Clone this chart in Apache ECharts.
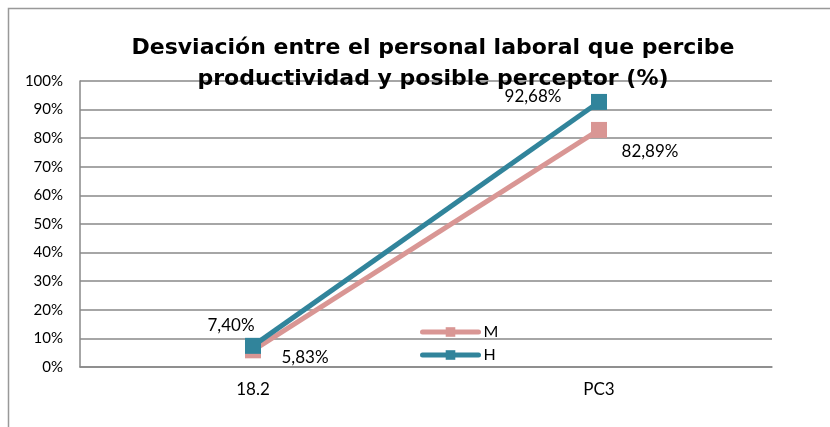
<!DOCTYPE html>
<html>
<head>
<meta charset="utf-8">
<script src="https://cdn.jsdelivr.net/npm/echarts@6/dist/echarts.min.js"></script>
<style>
  html, body { margin: 0; padding: 0; background: #fff; }
  #chart { width: 830px; height: 427px; }
</style>
</head>
<body>
<div id="chart"></div>
<script>
// Categories and series values (percent)
const categories = ['18.2', 'PC3'];
const valuesM = [5.83, 82.89];
const valuesH = [7.40, 92.68];
const yTicks = [0, 10, 20, 30, 40, 50, 60, 70, 80, 90, 100];

const FONT = 'Lato, "Open Sans", sans-serif';
const TITLE_FONT = '"DejaVu Sans", Lato, sans-serif';
const colorM = '#D99694';
const colorH = '#31849B';

function pct(v) {
  return v.toFixed(2).replace('.', ',') + '%';
}

// Label offsets relative to each marker, per series
const offsetsM = [[52, 7], [51, 22]];
const offsetsH = [[-22, -20], [-66, -5]];

function buildData(values, offsets) {
  return values.map((v, i) => ({
    value: v,
    label: {
      show: true,
      position: 'inside',
      offset: offsets[i],
      formatter: pct(v),
      color: '#000',
      fontFamily: FONT,
      fontSize: 17
    }
  }));
}

const chart = echarts.init(document.getElementById('chart'), null, { renderer: 'canvas' });

chart.setOption({
  animation: false,
  backgroundColor: '#fff',
  title: {
    text: 'Desviación entre el personal laboral que percibe\nproductividad y posible perceptor (%)',
    left: 428,
    textAlign: 'center',
    top: 28,
    textStyle: {
      fontFamily: TITLE_FONT,
      fontWeight: 'bold',
      fontSize: 22,
      lineHeight: 31,
      color: '#000'
    }
  },
  grid: { left: 80, right: 58, top: 81, bottom: 60 },
  legend: {
    orient: 'vertical',
    left: 420,
    top: 324,
    itemWidth: 56,
    itemHeight: 12,
    itemGap: 7,
    padding: 0,
    data: ['M', 'H'],
    lineStyle: { width: 5, cap: 'round' },
    textStyle: { fontFamily: FONT, fontSize: 16, color: '#000' }
  },
  xAxis: {
    type: 'category',
    data: categories,
    boundaryGap: true,
    axisLine: { show: true, lineStyle: { color: '#888', width: 1.5 } },
    axisTick: { show: false },
    axisLabel: { fontFamily: FONT, fontSize: 17, color: '#000', margin: 14 }
  },
  yAxis: {
    type: 'value',
    min: yTicks[0],
    max: yTicks[yTicks.length - 1],
    interval: 10,
    axisLine: { show: true, lineStyle: { color: '#888', width: 1.5 } },
    axisTick: { show: false },
    axisLabel: { fontFamily: FONT, fontSize: 15, color: '#000', margin: 17, formatter: '{value}%' },
    splitLine: { show: true, lineStyle: { color: '#888', width: 1.5 } }
  },
  series: [
    {
      name: 'M',
      type: 'line',
      data: buildData(valuesM, offsetsM),
      symbol: 'rect',
      symbolSize: 16,
      lineStyle: { color: colorM, width: 5 },
      itemStyle: { color: colorM },
      z: 2
    },
    {
      name: 'H',
      type: 'line',
      data: buildData(valuesH, offsetsH),
      symbol: 'rect',
      symbolSize: 16,
      lineStyle: { color: colorH, width: 5 },
      itemStyle: { color: colorH },
      z: 3
    }
  ],
  graphic: [
    {
      type: 'polyline',
      shape: { points: [[8.5, 427], [8.5, 8.5], [830, 8.5]] },
      style: { stroke: '#999', lineWidth: 1.5, fill: null },
      silent: true
    }
  ]
});
</script>
</body>
</html>
